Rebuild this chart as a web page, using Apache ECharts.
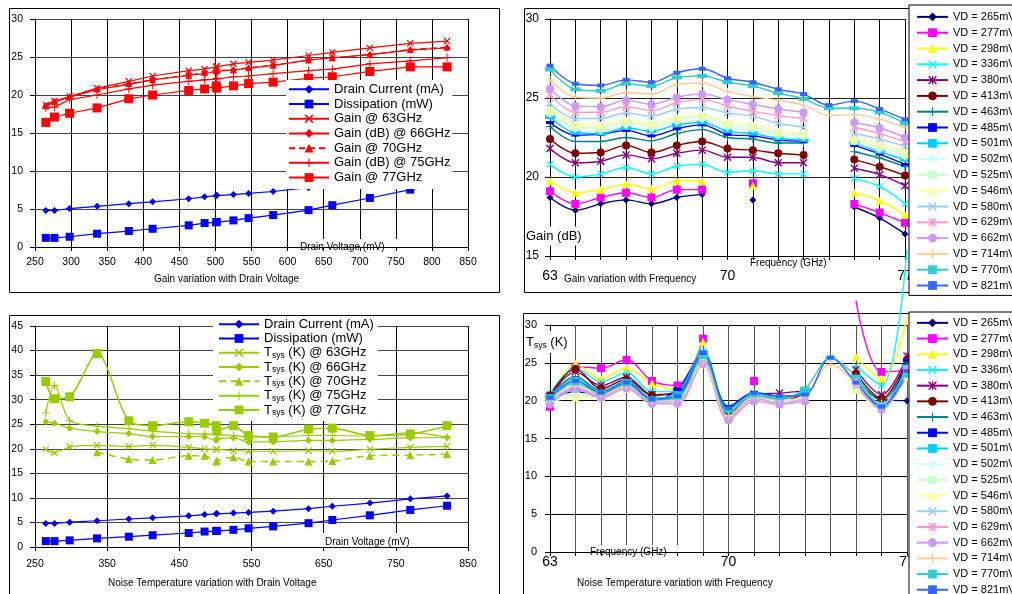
<!DOCTYPE html>
<html><head><meta charset="utf-8">
<script src="https://cdn.jsdelivr.net/npm/echarts@6/dist/echarts.min.js"></script>
<style>html,body{margin:0;padding:0;background:#fff}#c{width:1012px;height:594px}</style>
</head><body><div id="c"></div>
<script>
// ---------------- DATA ----------------
const volts = [265,277,298,336,380,413,463,485,501,502,525,546,580,629,662,714,770,821];
const drainCurrent = [4.8,4.8,5.05,5.35,5.7,5.95,6.35,6.6,6.75,6.8,6.9,7.05,7.3,7.8,8.3,8.95,9.8,10.4];
const dissipation  = [1.2,1.2,1.35,1.75,2.1,2.4,2.85,3.15,3.25,3.3,3.5,3.8,4.2,4.85,5.5,6.45,7.55,8.4];
const gain63 = [18.7,19.2,19.8,20.9,21.8,22.5,23.2,23.4,23.7,23.8,24.1,24.3,24.6,25.2,25.6,26.2,26.8,27.1];
const gain66 = [18.6,19.1,19.7,20.7,21.4,22.0,22.6,22.8,23.1,23.0,23.3,23.5,23.9,24.6,24.9,25.3,25.9,26.2];
const gain70 = [18.6,19.1,19.8,20.8,21.5,22.0,22.6,23.0,23.2,23.3,23.3,23.6,23.9,24.6,24.9,25.3,26.0,26.3];
const gain75 = [18.3,18.4,19.4,20.0,20.8,21.3,21.8,22.0,22.1,22.2,22.4,22.5,22.8,23.2,23.4,24.1,24.5,24.9];
const gain77 = [16.4,17.1,17.6,18.3,19.5,20.0,20.6,20.8,21.2,20.9,21.2,21.5,21.7,22.2,22.4,23.1,23.7,23.7];
const tsys63 = [19.9,19.2,20.4,20.7,20.5,20.7,20.3,20.0,19.9,19.9,19.6,19.5,19.5,19.6,19.5,19.9,20.3,20.5];
const tsys66 = [25.5,25.2,24.2,23.5,23.1,22.5,22.5,22.4,21.7,22.0,22.2,21.4,21.4,21.7,21.7,21.9,22.2,22.3];
const tsys70 = [null,null,null,19.3,17.9,17.7,18.6,18.6,17.4,17.6,18.3,17.4,17.4,17.4,17.5,18.6,18.7,18.9];
const tsys75 = [27.3,32.9,25.8,24.6,24.1,23.6,23.1,23.0,23.0,22.9,22.7,22.4,22.4,22.7,22.7,22.6,23.3,22.4];
const tsys77 = [33.7,30.2,30.6,39.4,25.7,24.7,25.5,25.2,24.7,23.6,24.7,22.7,22.4,24.0,24.2,22.7,23.0,24.7];

const freqs = [63,64,65,66,67,68,69,70,71,72,73,74,75,76,77];
const freqTickLabels = [63,70,77];
// Gain (dB) vs frequency, one array per drain voltage
const g265 = [18.7,17.9,18.3,18.55,18.3,18.7,18.9,null,18.55,null,null,null,18.1,17.4,16.4];
const g277 = [19.1,18.3,18.7,19.0,18.7,19.2,19.2,null,19.6,null,null,null,18.3,17.75,17.1];
const g298 = [19.75,19.0,19.2,19.55,19.25,19.75,19.75,null,19.45,null,null,null,19.0,18.5,17.6];
const g336 = [20.8,20.0,20.2,20.6,20.2,20.7,20.8,20.3,20.4,20.2,20.2,null,19.9,19.4,18.3];
const g380 = [21.8,20.9,21.0,21.4,21.15,21.5,21.7,21.25,21.25,20.9,20.9,null,20.55,20.15,19.45];
const g413 = [22.4,21.5,21.55,22.0,21.55,22.0,22.25,21.8,21.7,21.5,21.4,null,21.1,20.65,20.1];
const g463 = [23.2,22.25,22.25,22.5,22.3,22.75,23.0,22.5,22.4,22.15,22.15,null,21.6,21.2,20.65];
const g485 = [23.45,22.65,22.7,22.95,22.6,23.05,23.3,22.7,22.6,22.35,22.25,null,22.0,21.45,20.8];
const g501 = [23.8,22.8,22.75,23.1,22.9,23.3,23.45,22.9,22.75,22.45,22.35,null,22.15,21.6,21.1];
const g502 = [23.95,23.0,22.9,23.25,23.0,23.45,23.6,23.1,23.0,22.6,22.5,null,22.2,21.7,21.25];
const g525 = [24.1,23.15,23.1,23.45,23.25,23.65,23.8,23.3,23.15,22.75,22.65,null,22.3,21.9,21.4];
const g546 = [24.3,23.35,23.3,23.6,23.4,23.8,23.95,23.45,23.3,22.9,22.8,null,22.45,22.1,21.6];
const g580 = [24.65,23.7,23.7,24.05,23.85,24.3,24.4,24.05,23.85,23.4,23.15,null,22.75,22.4,21.95];
const g629 = [25.2,24.1,24.1,24.45,24.2,24.7,24.9,24.5,24.15,23.9,23.7,null,23.15,22.75,22.25];
const g662 = [25.6,24.5,24.45,24.85,24.6,25.05,25.25,24.9,24.6,24.3,24.1,null,23.45,23.1,22.5];
const g714 = [26.15,25.05,25.0,25.35,25.25,25.85,25.95,25.4,25.1,24.85,24.55,23.9,23.95,23.65,23.15];
const g770 = [26.8,25.55,25.45,25.9,25.75,26.3,26.4,26.0,25.75,25.3,24.95,24.35,24.35,24.1,23.4];
const g821 = [27.05,25.9,25.8,26.15,26.0,26.6,26.85,26.25,26.0,25.55,25.25,24.55,24.8,24.3,23.65];
// Tsys (K) vs frequency
const t265 = [20.3,21.2,20.8,22.0,20.2,20.8,25.5,null,20.5,null,null,null,22.5,20.2,20.0];
const t277 = [19.2,24.5,24.3,25.4,22.6,22.0,28.2,null,22.6,null,null,null,33.2,23.8,24.0];
const t298 = [20.2,24.9,22.9,24.3,22.3,21.5,27.8,null,21.0,null,null,null,25.8,22.9,31.0];
const t336 = [20.9,24.3,22.5,23.7,21.2,21.2,26.6,19.2,21.0,20.3,21.0,null,24.6,22.0,40.0];
const t380 = [20.6,23.8,22.0,23.1,20.8,21.1,26.0,18.0,20.8,21.0,21.3,null,24.1,20.8,25.9];
const t413 = [20.7,24.2,21.6,22.8,20.7,21.3,25.6,17.6,20.3,19.9,21.0,null,23.6,20.3,25.4];
const t463 = [20.5,23.2,21.3,22.5,20.3,20.8,25.8,18.3,20.6,20.2,21.3,null,23.3,20.0,25.0];
const t485 = [20.2,21.5,20.9,22.3,20.0,21.5,26.2,19.2,21.1,20.6,20.8,null,22.8,19.3,25.3];
const t501 = [20.6,22.8,21.2,22.6,20.3,21.0,26.4,18.9,20.9,20.4,21.1,null,23.0,19.5,24.5];
const t502 = [20.1,21.0,20.6,21.8,19.9,20.1,25.2,17.7,20.3,20.0,20.2,null,22.0,19.2,23.8];
const t525 = [20.0,20.8,20.5,21.7,19.8,20.0,25.0,17.6,20.2,19.9,20.1,null,21.6,19.0,23.5];
const t546 = [19.8,20.4,20.4,21.5,19.7,19.8,24.8,17.5,20.1,19.8,20.0,null,21.4,18.9,23.2];
const t580 = [19.9,21.8,20.7,22.0,19.9,20.0,25.3,17.8,20.4,19.7,20.3,null,21.9,19.1,23.6];
const t629 = [20.0,21.6,20.6,21.9,19.8,19.9,25.0,17.6,20.3,19.6,20.1,null,22.2,19.0,23.4];
const t662 = [19.5,21.5,20.4,21.6,19.6,19.6,24.8,17.4,19.9,19.5,19.9,null,22.5,18.8,24.2];
const t714 = [20.1,21.9,20.8,22.0,20.0,20.2,25.0,18.0,20.5,20.1,20.6,24.8,22.4,19.6,23.0];
const t770 = [20.3,22.3,21.0,22.2,20.1,20.4,25.8,18.7,20.7,20.3,21.6,25.6,23.2,19.4,23.3];
const t821 = [20.4,22.6,21.1,22.4,20.2,20.6,26.4,19.0,21.0,20.6,20.8,25.7,22.4,19.2,23.9];

const gainByVd = [g265,g277,g298,g336,g380,g413,g463,g485,g501,g502,g525,g546,g580,g629,g662,g714,g770,g821];
const tsysByVd = [t265,t277,t298,t336,t380,t413,t463,t485,t501,t502,t525,t546,t580,t629,t662,t714,t770,t821];
const vdNames = volts.map(v => 'VD = ' + v + 'mV');

// ---------------- STYLES ----------------
const FF = 'Liberation Sans, Arial, sans-serif';
const XS = 'path://M0,1.2L1.2,0L5,3.8L8.8,0L10,1.2L6.2,5L10,8.8L8.8,10L5,6.2L1.2,10L0,8.8L3.8,5Z';
const PLUS = 'path://M4.4,0H5.6V4.4H10V5.6H5.6V10H4.4V5.6H0V4.4H4.4Z';
const STAR = 'path://M0,1.2L1.2,0L5,3.8L8.8,0L10,1.2L6.2,5L10,8.8L8.8,10L5,6.2L1.2,10L0,8.8L3.8,5Z M4.4,0H5.6V10H4.4Z';
const vdStyle = [
  ['#000080','diamond',7],['#FF00FF','rect',8],['#FFFF00','triangle',8],['#00FFFF',XS,7],
  ['#800080',STAR,8],['#800000','circle',8],['#008080',PLUS,8],['#0000FF','rect',[8,3]],
  ['#00CCFF','rect',[10,4]],['#CCFFFF','diamond',7],['#CCFFCC','rect',8],['#FFFF99','triangle',8],
  ['#99CCFF',XS,7],['#FF99CC',STAR,8],['#CC99FF','circle',8],['#FFCC99',PLUS,8],
  ['#33CCCC','rect',[10,4]],['#3366FF','rect',[7,4]]
];

function pairs(xs, ys){ return xs.map((x,i)=>[x, ys[i]]); }
function mk(name, gi, data, color, symbol, size, extra){
  return Object.assign({
    type:'line', name, xAxisIndex:gi, yAxisIndex:gi, data,
    symbol, symbolSize:size, showSymbol:true, showAllSymbol:true,
    lineStyle:{color, width:1.2}, itemStyle:{color},
    emphasis:{disabled:true}, z:2
  }, extra||{});
}

const series = [];
const RED='#FF0000', BLUE='#0000FF', GRN='#99CC00';
// top-left
series.push(mk('Drain Current (mA)',0,pairs(volts,drainCurrent),BLUE,'diamond',7));
series.push(mk('Dissipation (mW)',0,pairs(volts,dissipation),BLUE,'rect',8));
series.push(mk('Gain @ 63GHz',0,pairs(volts,gain63),RED,XS,7));
series.push(mk('Gain (dB) @ 66GHz',0,pairs(volts,gain66),RED,'diamond',7));
series.push(mk('Gain @ 70GHz',0,pairs(volts,gain70),RED,'triangle',7,{lineStyle:{color:RED,width:1.2,type:[6,4]}}));
series.push(mk('Gain (dB) @ 75GHz',0,pairs(volts,gain75),RED,PLUS,8));
series.push(mk('Gain @ 77GHz',0,pairs(volts,gain77),RED,'rect',9));
// bottom-left
series.push(mk('Drain Current (mA)',1,pairs(volts,drainCurrent),BLUE,'diamond',7));
series.push(mk('Dissipation (mW)',1,pairs(volts,dissipation),BLUE,'rect',8));
series.push(mk('Tsys (K) @ 63GHz',1,pairs(volts,tsys63),GRN,XS,7,{smooth:0.3}));
series.push(mk('Tsys (K) @ 66GHz',1,pairs(volts,tsys66),GRN,'diamond',7,{smooth:0.3}));
series.push(mk('Tsys (K) @ 70GHz',1,pairs(volts,tsys70),GRN,'triangle',8,{smooth:0.3,lineStyle:{color:GRN,width:1.5,type:[7,5]}}));
series.push(mk('Tsys (K) @ 75GHz',1,pairs(volts,tsys75),GRN,PLUS,8,{smooth:0.3}));
series.push(mk('Tsys (K) @ 77GHz',1,pairs(volts,tsys77),GRN,'rect',9,{smooth:0.3,lineStyle:{color:GRN,width:1.5}}));
// right charts
vdNames.forEach((n,i)=>{
  const [c,sym,sz] = vdStyle[i];
  series.push(mk(n,2,pairs(freqs,gainByVd[i]),c,sym,sz,{smooth:0.35,lineStyle:{color:c,width:1.4}}));
});
vdNames.forEach((n,i)=>{
  const [c,sym,sz] = vdStyle[i];
  series.push(mk(n,3,pairs(freqs,tsysByVd[i]),c,sym,
    (v)=> (v[1]>30 ? 0 : sz),
    {smooth:0.35,clip:false,lineStyle:{color:c,width:1.4}}));
});

function xAxisCfg(gi,min,max,interval,o){
  return Object.assign({
    gridIndex:gi,type:'value',min,max,interval,nameMoveOverlap:false,
    axisLine:{show:true,onZero:false,lineStyle:{color:'#000',width:1}},
    axisTick:{show:true,length:4,lineStyle:{color:'#000'}},
    axisLabel:{color:'#000',fontSize:10.5,fontFamily:FF,margin:10},
    splitLine:{show:true,lineStyle:{color:'#000',width:1}}
  },o);
}
function yAxisCfg(gi,min,max,interval,o){
  return Object.assign({
    gridIndex:gi,type:'value',min,max,interval,
    axisLine:{show:true,onZero:false,lineStyle:{color:'#000',width:1}},
    axisTick:{show:true,length:5,lineStyle:{color:'#000'}},
    axisLabel:{color:'#000',fontSize:10.5,fontFamily:FF,margin:12},
    splitLine:{show:true,showMinLine:false,lineStyle:{color:'#444',width:1}}
  },o);
}
const freqFmt = v => freqTickLabels.includes(v) ? String(v) : '';

const option = {
  animation:false,
  backgroundColor:'#fff',
  grid:[
    {left:35,top:19,width:433,height:228},
    {left:35,top:326,width:433,height:221},
    {left:550,top:19,width:355,height:237},
    {left:550,top:325,width:357,height:227}
  ],
  xAxis:[
    xAxisCfg(0,250,850,50,{name:'Drain Voltage (mV)',nameLocation:'end',nameGap:-170,
      nameTextStyle:{color:'#000',fontSize:10,fontFamily:FF,backgroundColor:'#fff',padding:[3,17,3,2],align:'left',verticalAlign:'middle'}}),
    xAxisCfg(1,250,850,100,{axisLabel:{color:'#000',fontSize:10.5,fontFamily:FF,margin:12},
      name:'Drain Voltage (mV)',nameLocation:'end',nameGap:-146,
      nameTextStyle:{color:'#000',fontSize:10,fontFamily:FF,backgroundColor:'#fff',padding:[4,16,0,3],align:'left',verticalAlign:'bottom'}}),
    xAxisCfg(2,63,77,1,{axisLabel:{color:'#000',fontSize:14,fontFamily:FF,margin:13,formatter:freqFmt},
      name:'Frequency (GHz)',nameLocation:'end',nameGap:-157,
      nameTextStyle:{color:'#000',fontSize:10,fontFamily:FF,backgroundColor:'#fff',padding:[2,12,3,2],align:'left',verticalAlign:'top'}}),
    xAxisCfg(3,63,77,1,{axisLabel:{color:'#000',fontSize:14,fontFamily:FF,margin:3,formatter:freqFmt},
      splitLine:{show:true,lineStyle:{color:'#555',width:1}},
      name:'Frequency (GHz)',nameLocation:'end',nameGap:-320,
      nameTextStyle:{color:'#000',fontSize:10,fontFamily:FF,backgroundColor:'#fff',padding:[2,15,2,3],align:'left',verticalAlign:'middle'}})
  ],
  yAxis:[
    yAxisCfg(0,0,30,5),
    yAxisCfg(1,0,45,5),
    yAxisCfg(2,15,30,5,{axisLabel:{color:'#000',fontSize:12,fontFamily:FF,margin:11},splitLine:{show:true,showMinLine:false,lineStyle:{color:'#222',width:1}}}),
    yAxisCfg(3,0,30,5,{axisLabel:{color:'#000',fontSize:11,fontFamily:FF,margin:13},splitLine:{show:true,showMinLine:false,lineStyle:{color:'#000',width:1}}})
  ],
  legend:[
    {orient:'vertical',left:286,top:80,padding:[2,2,4,2],itemWidth:40,itemHeight:11,itemGap:0,
     backgroundColor:'#fff',z:5,selectedMode:false,
     data:['Drain Current (mA)','Dissipation (mW)','Gain @ 63GHz','Gain (dB) @ 66GHz','Gain @ 70GHz','Gain (dB) @ 75GHz','Gain @ 77GHz'],
     textStyle:{color:'#000',fontSize:13,fontFamily:FF,lineHeight:14.7}},
    {orient:'vertical',left:213,top:316,padding:[1,4,4,5],itemWidth:40,itemHeight:11,itemGap:0,
     backgroundColor:'#fff',z:5,selectedMode:false,
     data:['Drain Current (mA)','Dissipation (mW)','Tsys (K) @ 63GHz','Tsys (K) @ 66GHz','Tsys (K) @ 70GHz','Tsys (K) @ 75GHz','Tsys (K) @ 77GHz'],
     formatter: n => n.startsWith('Tsys') ? '{a|T}{s|sys}{a|' + n.slice(4) + '}' : '{a|' + n + '}',
     textStyle:{color:'#000',fontSize:13,fontFamily:FF,lineHeight:14.3,
       rich:{a:{fontSize:13,fontFamily:FF,color:'#000',lineHeight:14.3},
             s:{fontSize:8.5,fontFamily:FF,color:'#000',lineHeight:9,verticalAlign:'bottom'}}}},
    {orient:'vertical',left:909,top:5,height:300,padding:[4,30,2,7],itemWidth:31,itemHeight:11,itemGap:0,
     backgroundColor:'#fff',borderColor:'#000',borderWidth:1,z:5,selectedMode:false,
     data:vdNames,textStyle:{color:'#000',fontSize:11,fontFamily:FF,lineHeight:15.8}},
    {orient:'vertical',left:909,top:312,height:320,padding:[3,30,2,7],itemWidth:31,itemHeight:11,itemGap:0,
     backgroundColor:'#fff',borderColor:'#000',borderWidth:1,z:5,selectedMode:false,
     data:vdNames,textStyle:{color:'#000',fontSize:11,fontFamily:FF,lineHeight:15.7}}
  ],
  graphic:[
    {type:'rect',z:1,silent:true,shape:{x:9.5,y:8.5,width:490,height:284},style:{fill:'none',stroke:'#000',lineWidth:1}},
    {type:'rect',z:1,silent:true,shape:{x:9.5,y:315.5,width:490,height:300},style:{fill:'none',stroke:'#000',lineWidth:1}},
    {type:'rect',z:1,silent:true,shape:{x:524.5,y:8.5,width:386,height:284},style:{fill:'none',stroke:'#000',lineWidth:1}},
    {type:'rect',z:1,silent:true,shape:{x:523.5,y:313.5,width:387,height:300},style:{fill:'none',stroke:'#000',lineWidth:1}},
    {type:'text',z:3,silent:true,x:154,y:279,style:{text:'Gain variation with Drain Voltage',fontSize:10,fontFamily:FF,fill:'#000',align:'left',verticalAlign:'middle'}},
    {type:'text',z:3,silent:true,x:108,y:583,style:{text:'Noise Temperature variation with Drain Voltage',fontSize:10,fontFamily:FF,fill:'#000',align:'left',verticalAlign:'middle'}},
    {type:'text',z:3,silent:true,x:564,y:279,style:{text:'Gain variation with Frequency',fontSize:10,fontFamily:FF,fill:'#000',align:'left',verticalAlign:'middle'}},
    {type:'text',z:3,silent:true,x:577,y:583,style:{text:'Noise Temperature variation with Frequency',fontSize:10,fontFamily:FF,fill:'#000',align:'left',verticalAlign:'middle'}},
    {type:'text',z:3,silent:true,x:525,y:236,style:{text:'Gain (dB)',fontSize:13,fontFamily:FF,fill:'#000',align:'left',verticalAlign:'middle',backgroundColor:'#fff',padding:[3,2,3,1]}},
    {type:'text',z:3,silent:true,x:525,y:342,style:{text:'{a|T}{s|sys}{a| (K)}',align:'left',verticalAlign:'middle',backgroundColor:'#fff',padding:[3,2,3,1],
      rich:{a:{fontSize:13,fontFamily:FF,fill:'#000',color:'#000',lineHeight:16},s:{fontSize:8.5,fontFamily:FF,color:'#000',lineHeight:10,verticalAlign:'bottom'}}}}
  ],
  series
};
const chart = echarts.init(document.getElementById('c'),null,{renderer:'canvas'});
chart.setOption(option);
</script></body></html>
